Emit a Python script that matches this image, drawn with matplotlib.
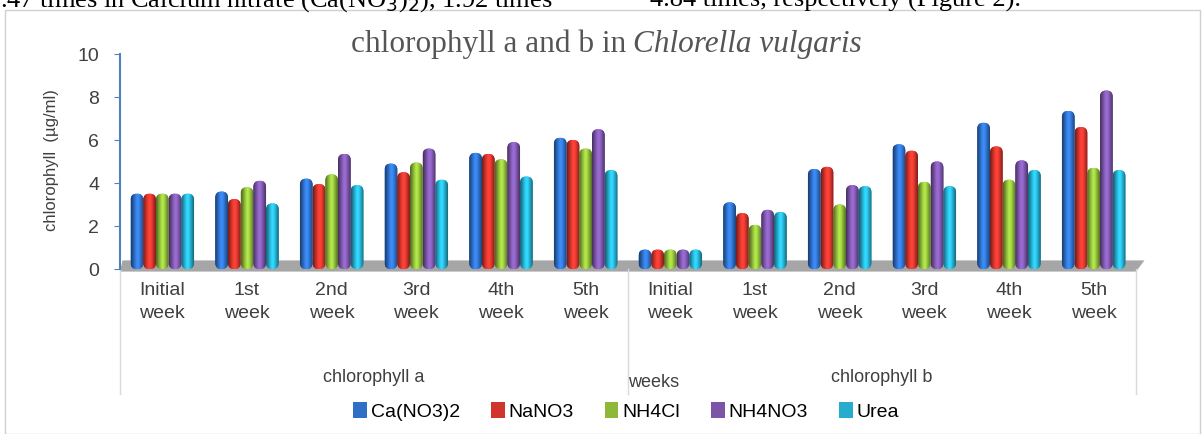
import numpy as np
import matplotlib
matplotlib.use("Agg")
import matplotlib.pyplot as plt
from matplotlib.patches import FancyBboxPatch, Patch, Polygon, Rectangle
from matplotlib.colors import to_rgb
import matplotlib.transforms as mtransforms

# data (chlorophyll a weeks 0-5, then chlorophyll b weeks 0-5)
weeks = ['Initial\nweek', '1st\nweek', '2nd\nweek', '3rd\nweek', '4th\nweek', '5th\nweek']
categories = weeks + weeks
groups = ['chlorophyll a', 'chlorophyll b']
series = ['Ca(NO3)2', 'NaNO3', 'NH4Cl', 'NH4NO3', 'Urea']
ca_no3 = [3.5, 3.6, 4.2, 4.9, 5.4, 6.1, 0.9, 3.1, 4.65, 5.8, 6.8, 7.35]
na_no3 = [3.5, 3.25, 3.95, 4.5, 5.35, 6.0, 0.9, 2.6, 4.75, 5.5, 5.7, 6.6]
nh4cl = [3.5, 3.8, 4.4, 4.95, 5.1, 5.6, 0.9, 2.05, 3.0, 4.05, 4.15, 4.7]
nh4no3 = [3.5, 4.1, 5.35, 5.6, 5.9, 6.5, 0.9, 2.75, 3.9, 5.0, 5.05, 8.3]
urea = [3.5, 3.05, 3.9, 4.15, 4.3, 4.6, 0.9, 2.65, 3.85, 3.85, 4.6, 4.6]
values = [ca_no3, na_no3, nh4cl, nh4no3, urea]
colors = ['#2F6FC6', '#D0342C', '#8DB83A', '#7B55A8', '#27ACCD']

font_c = ['Liberation Sans Narrow', 'Liberation Sans', 'DejaVu Sans']
W, H = 1204, 435

fig = plt.figure(figsize=(12.04, 4.35), dpi=100)
ax = fig.add_axes([120/W, 1-270/H, (1136-120)/W, 215/H])

# bit of document text cut at the top
fig.text(0.0, 1-7/H, '.47 times in Calcium nitrate (Ca(NO$_3$)$_2$), 1.92 times',
         family='Liberation Serif', fontsize=19, va='baseline', ha='left')
fig.text(650/W, 1-7/H, '4.84 times, respectively (Figure 2).',
         family='Liberation Serif', fontsize=19, va='baseline', ha='left')
fig.patches.append(Rectangle((5/W, 0.0), 1195/W, 1-11/H, transform=fig.transFigure,
                             fill=False, edgecolor='#D0D0D0', lw=1))

x = np.arange(len(categories))
w = 0.15
shade = np.array([0.55, 0.75, 0.95, 1.15, 1.3, 1.2, 1.0, 0.8, 0.6])
shade = np.interp(np.linspace(0, 8, 40), np.arange(9), shade)

# floor
ax.add_patch(Polygon([(-0.5, -0.12), (11.5, -0.12), (11.6, 0.4), (-0.47, 0.4)],
                     closed=True, facecolor='#A6A6A6', edgecolor='none', zorder=1, clip_on=False))

for i, (vals, col) in enumerate(zip(values, colors)):
    base = np.array(to_rgb(col))
    grad = np.clip(base[None, :] * shade[:, None], 0, 1)[None, :, :]
    for xi, v in zip(x, vals):
        x0 = xi + (i - 2) * w - w / 2
        p = FancyBboxPatch((x0, 0.0), w, v, boxstyle='round,pad=0,rounding_size=0.07',
                           mutation_aspect=4.0, facecolor=col, edgecolor='none', zorder=2)
        ax.add_patch(p)
        im = ax.imshow(grad, extent=(x0, x0 + w, 0, v), aspect='auto', zorder=3,
                       interpolation='bicubic')
        im.set_clip_path(p)

ax.set_xlim(-0.5, 11.5)
ax.set_ylim(0, 10)
ax.set_yticks(range(0, 11, 2))
ax.set_yticklabels([str(t) for t in range(0, 11, 2)], family=font_c, fontsize=14, color='#404040')
ax.tick_params(axis='y', direction='out', length=4, color='#4F81BD', pad=11)
ax.set_xticks([])
for s in ['top', 'right', 'bottom']:
    ax.spines[s].set_visible(False)
ax.spines['left'].set_color('#4F81BD')
ax.spines['left'].set_linewidth(1.5)

trans = mtransforms.blended_transform_factory(ax.transData, ax.transAxes)
for xi, lab in zip(x, categories):
    ax.text(xi, -0.15, lab, transform=trans, ha='center', va='center',
            family=font_c, fontsize=14, color='#404040', linespacing=1.45)
for xs in [-0.5, 5.5, 11.5]:
    ax.plot([xs, xs], [0, -0.58], transform=trans, color='#D9D9D9', lw=1, clip_on=False)
ax.text(2.5, -0.5, groups[0], transform=trans, ha='center', va='center',
        family=font_c, fontsize=13, color='#404040')
ax.text(8.5, -0.5, groups[1], transform=trans, ha='center', va='center',
        family=font_c, fontsize=13, color='#404040')
ax.text(5.8, -0.525, 'weeks', transform=trans, ha='center', va='center',
        family=font_c, fontsize=13, color='#404040')

# title: roman part + italic species name, centred together
ty = 1 - 52/H
t1 = fig.text(0, ty, 'chlorophyll a and b in', family='Liberation Serif', fontsize=22.5,
              va='baseline', color='#555555')
t2 = fig.text(0, ty, 'Chlorella vulgaris', family='Liberation Serif', style='italic',
              fontsize=22.5, va='baseline', color='#555555')
r = fig.canvas.get_renderer()
w1 = t1.get_window_extent(r).width
w2 = t2.get_window_extent(r).width
gap = 7
x0 = 606 - (w1 + gap + w2) / 2
t1.set_x(x0 / W)
t2.set_x((x0 + w1 + gap) / W)

fig.text(52/W, 1-160/H, 'chlorophyll  (µg/ml)', rotation=90, ha='center', va='center',
         family=['Liberation Sans', 'DejaVu Sans'], fontsize=12, color='#404040')

handles = [Patch(facecolor=c, edgecolor='none', label=s) for s, c in zip(series, colors)]
fig.legend(handles=handles, loc='center', bbox_to_anchor=(0.52, 1-412/H), ncol=5,
           frameon=False, handlelength=0.7, handleheight=0.9, handletextpad=0.2,
           columnspacing=1.6, prop={'family': font_c, 'size': 14})

fig.savefig('out.png', dpi=100)
